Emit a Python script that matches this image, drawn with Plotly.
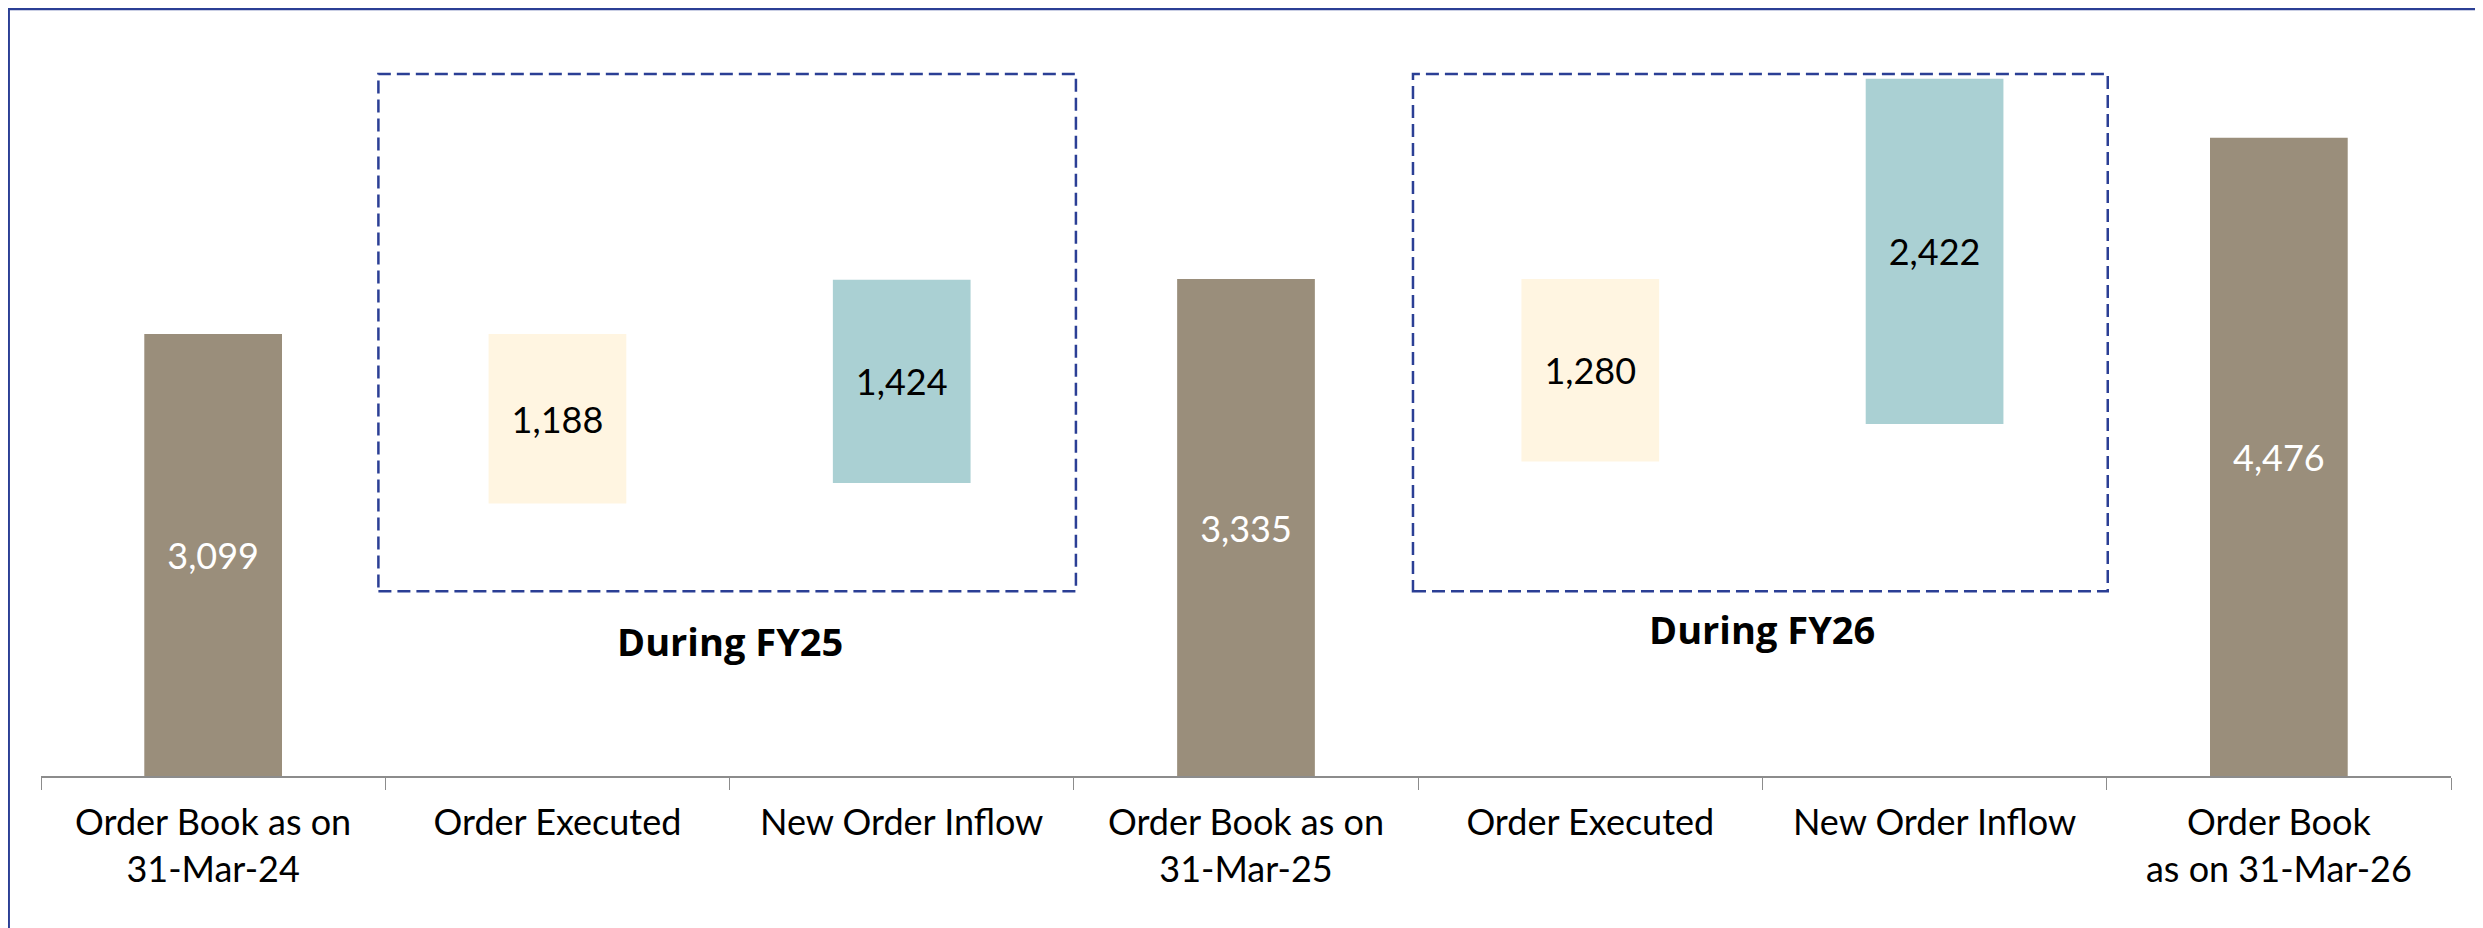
import plotly.graph_objects as go

# categories along the x axis
cat_ids = ["ob24", "ex25", "in25", "ob25", "ex26", "in26", "ob26"]
tick_labels = ["Order Book as on<br>31-Mar-24", "Order Executed", "New Order Inflow",
               "Order Book as on<br>31-Mar-25", "Order Executed", "New Order Inflow",
               "Order Book<br>as on 31-Mar-26"]

# values printed on the bars
values = [3099, 1188, 1424, 3335, 1280, 2422, 4476]
# bar lengths and floating bases as drawn on the slide (the 31-Mar-25 bar is drawn a bit taller than its label)
heights = [3099, 1188, 1424, 3485, 1280, 2422, 4476]
bases = [0, 1911, 2055, 0, 2205, 2468, 0]

group_labels = ["During FY25", "During FY26"]

BROWN = "#9A8E7B"
CREAM = "#FFF5E1"
TEAL = "#AAD0D3"
NAVY = "#2B3F95"

bar_colors = [BROWN, CREAM, TEAL, BROWN, CREAM, TEAL, BROWN]
text_colors = ["white" if c == BROWN else "black" for c in bar_colors]

fig = go.Figure(
    go.Bar(
        x=cat_ids,
        y=heights,
        base=bases,
        width=0.4,
        marker=dict(color=bar_colors, line=dict(width=0)),
        text=[f"{v:,}" for v in values],
        textposition="inside",
        insidetextanchor="middle",
        constraintext="none",
        textfont=dict(family="Lato", size=36, color=text_colors),
        hoverinfo="skip",
    )
)

# dashed boxes around the movements of each year
for x0, x1 in [(0.48, 2.506), (3.485, 5.503)]:
    fig.add_shape(type="rect", xref="x", yref="y", x0=x0, x1=x1, y0=1295, y1=4923,
                  line=dict(color=NAVY, width=2.5, dash="13px,6px"))

for xc, yc, txt in [(1.5, 950, group_labels[0]), (4.5, 1030, group_labels[1])]:
    fig.add_annotation(x=xc, y=yc, xref="x", yref="y", text=txt, showarrow=False,
                       font=dict(family="Open Sans", size=38, color="black", weight="bold"))

# slide frame: top and left edges
fig.add_shape(type="line", xref="paper", yref="paper", x0=-0.03, x1=1.03, y0=1.0365, y1=1.0365,
              line=dict(color=NAVY, width=2.5))
fig.add_shape(type="line", xref="paper", yref="paper", x0=-0.0133, x1=-0.0133, y0=-0.3, y1=1.0365,
              line=dict(color=NAVY, width=2))

fig.update_layout(
    width=2475,
    height=920,
    autosize=False,
    margin=dict(l=33, r=32, t=28, b=152),
    plot_bgcolor="white",
    paper_bgcolor="white",
    showlegend=False,
    bargap=0.6,
)
fig.update_xaxes(
    type="category",
    tickmode="array",
    tickvals=cat_ids,
    ticktext=tick_labels,
    tickson="boundaries",
    ticks="outside",
    ticklen=12,
    tickwidth=1,
    tickcolor="#8C8C8C",
    showline=True,
    linecolor="#8C8C8C",
    linewidth=2,
    showgrid=False,
    ticklabelstandoff=14,
    tickfont=dict(family="Lato", size=36, color="black"),
    range=[-0.5, 6.5],
)
fig.update_yaxes(visible=False, range=[0, 5189], showgrid=False, zeroline=False)

fig.write_html("out.html")
